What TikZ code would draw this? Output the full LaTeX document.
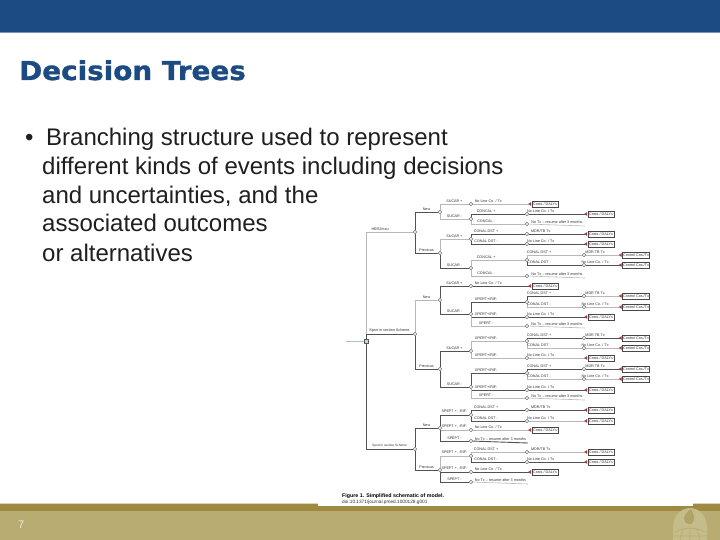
\documentclass[tikz,border=0pt]{standalone}
\usepackage{fontspec}
\setmainfont{Liberation Sans}
\newfontfamily\titlefont[BoldFeatures={FakeBold=1.2}]{DejaVu Sans}
\usetikzlibrary{arrows.meta}
\definecolor{hdr}{HTML}{1C4A82}
\definecolor{bandd}{HTML}{A08A42}
\definecolor{bandl}{HTML}{B8AC72}
\definecolor{logoc}{HTML}{C4BC8A}
\definecolor{flamec}{HTML}{AFA468}
\definecolor{termred}{HTML}{B03A3A}
\pgfdeclarelayer{slide}
\pgfdeclarelayer{links}
\pgfsetlayers{slide,links,main}
\tikzset{
  x=1pt,y=-1pt,
  chance/.style={circle,draw=black!55,fill=white,line width=.45pt,minimum size=3.6pt,inner sep=0pt},
  decis/.style={rectangle,draw=black!65,fill=hdr!25,line width=.5pt,minimum size=4.5pt,inner sep=0pt},
  endpt/.style={inner sep=0pt,minimum size=0pt},
  termbox/.style={draw=black!72,fill=white,line width=.5pt,font=\fontsize{3.7}{4}\selectfont,text=black!80,inner sep=.6pt,minimum width=26pt,minimum height=6pt},
  dk/.style={draw=black!68,line width=.9pt},
  lt/.style={draw=black!28,line width=.6pt},
  lbl/.style={font=\fontsize{3.7}{4}\selectfont,text=black!80,above,inner sep=1.4pt},
  hit/.style={shorten >=.6pt,-{Triangle[reversed,length=3pt,width=3.6pt,color=termred]}},
  bodytext/.style={anchor=base west,font=\fontsize{24}{26}\selectfont,text=black!88,inner sep=0pt},
}
\def\lp{.75}
\newcommand{\brn}[4]{\draw[#1] (#2) |- node[lbl,pos=\lp] {#4} (#3);}
\begin{document}
\begin{tikzpicture}
\useasboundingbox (0,0) rectangle (720,540);
\begin{pgfonlayer}{slide}
\fill[white] (0,0) rectangle (720,540);
\fill[bandl] (0,511) rectangle (720,540);
\fill[bandd] (0,504) rectangle (720,511);
\fill[bandl!50!white] (0,503) rectangle (720,504);
\fill[hdr] (0,0) rectangle (720,32);
\fill[hdr!60!white] (0,32) rectangle (720,33);
% logo
\fill[logoc] (673,540) -- (673,527) .. controls (673,516) and (681,508) .. (690,508) .. controls (699,508) and (707,516) .. (707,527) -- (707,540) -- cycle;
\fill[flamec] (691,509) .. controls (682,515) and (682,523) .. (689,524) .. controls (696,524) and (695,516) .. (691,509) -- cycle;
\draw[bandl,line width=.7pt] (675,532) .. controls (684,527) and (696,527) .. (705,532);
\draw[bandl,line width=.7pt] (690,528) -- (690,540) (683,529) -- (680,540) (697,529) -- (700,540) (674,536) -- (706,536);
% image patch
\fill[white] (318,33) rectangle (693,506);
\end{pgfonlayer}
% title and body
\node[anchor=base west,inner sep=0pt,text=hdr,font=\titlefont\bfseries\fontsize{26}{28}\selectfont] (title) at (19,80) {\scalebox{1.07}[1]{Decision Trees}};
\node[bodytext] (bullet) at (25,146) {•};
\node[bodytext] (t1) at (46,146) {Branching structure used to represent};
\node[bodytext] (t2) at (42,175) {different kinds of events including decisions};
\node[bodytext] (t3) at (42,204) {and uncertainties, and the};
\node[bodytext] (t4) at (42,232) {associated outcomes};
\node[bodytext] (t5) at (42,261) {or alternatives};
\node[anchor=base west,inner sep=0pt,font=\fontsize{11}{13}\selectfont,text=white!75!bandl] (pg) at (18,528) {7};
% nodes of the tree
\coordinate (in) at (346,341);
\node[decis] (R) at (366,341) {};
\foreach \n/\x/\y in {
 A/415/232, B/415/334, C/415/449,
 A1/440/212, A2/440/253, B1/440/300, B2/440/369, C1/440/428, C2/440/470,
 a/471/204, b/471/219, c/471/239, d/471/268, e/471/286, f/471/314, g/471/351, h/471/387,
 i/471/415, j/471/430, k/471/441, l/471/456, m/471/472, n/471/482,
 b1/527/214, b2/527/224, c1/527/234, c2/527/244, d1/527/260, d2/527/276,
 f1/527/302, f2/527/317, f3/527/326, g1/527/341, g2/527/358, h1/527/373, h2/527/390, h3/527/398,
 i1/527/410, i2/527/421, l1/527/452, l2/527/462,
 d11/584/255, d12/584/265, f11/584/296, f12/584/307, g11/584/338, g12/584/348, h11/584/369, h12/584/379}
 {\node[chance] (\n) at (\x,\y) {};}
\foreach \n/\x/\y in {b2e/585/226, d2e/585/278, f3e/585/328, h3e/585/400, ke/528/443, ne/528/484}
 {\node[endpt] (\n) at (\x,\y) {};}
% terminal boxes
\foreach \n/\x/\y/\t in {
 ta/545/204/{Costs / DALYs}, tj/545/430/{Costs / DALYs}, te/545/286/{Costs / DALYs}, tm/545/472/{Costs / DALYs},
 tb1/601/214/{Costs / DALYs}, tc1/601/234/{Costs / DALYs}, tc2/601/244/{Costs / DALYs}, tf2/601/317/{Costs / DALYs},
 tg2/601/358/{Costs / DALYs}, th2/601/390/{Costs / DALYs}, ti1/601/410/{Costs / DALYs}, ti2/601/421/{Costs / DALYs},
 tl1/601/452/{Costs / DALYs}, tl2/601/462/{Costs / DALYs},
 td11/636/255/{Control Cos./Tx}, td12/636/265/{Control Cos./Tx}, tf11/636/296/{Control Cos./Tx}, tf12/636/307/{Control Cos./Tx},
 tg11/636/338/{Control Cos./Tx}, tg12/636/348/{Control Cos./Tx}, th11/636/369/{Control Cos./Tx}, th12/636/379/{Control Cos./Tx}}
 {\node[termbox] (\n) at (\x,\y) {\t};}
% connectors
\begin{pgfonlayer}{links}
\draw[draw=hdr!35,line width=.6pt] (in) -- (R);
\def\lp{.65}
\brn{lt}{R}{A}{HER2/neu}
\def\lp{.75}
\brn{dk}{R}{B}{Sport in section Scheme}
\brn{dk}{R}{C}{\fontsize{3.2}{3.5}\selectfont Sport in section Scheme}
\brn{dk}{A}{A1}{New}
\brn{dk}{A}{A2}{Previous}
\brn{lt}{B}{B1}{New}
\brn{dk}{B}{B2}{Previous}
\brn{dk}{C}{C1}{New}
\brn{dk}{C}{C2}{Previous}
\brn{lt}{A1}{a}{SUCAR +}
\brn{lt}{A1}{b}{SUCAR -}
\brn{lt}{A2}{c}{SUCAR +}
\brn{dk}{A2}{d}{SUCAR -}
\brn{dk}{B1}{e}{SUCAR +}
\brn{dk}{B1}{f}{SUCAR -}
\brn{dk}{B2}{g}{SUCAR +}
\brn{dk}{B2}{h}{SUCAR -}
\brn{dk}{C1}{i}{SPEPT +, -RIF-}
\brn{lt}{C1}{j}{SPEPT +, -RIF-}
\brn{dk}{C1}{k}{SPEPT -}
\brn{lt}{C2}{l}{SPEPT +, -RIF-}
\brn{dk}{C2}{m}{SPEPT +, -RIF-}
\brn{dk}{C2}{n}{SPEPT -}
\def\lp{.64}
\brn{dk}{b}{b1}{CONCAL +}
\brn{lt}{b}{b2}{CONCAL -}
\brn{dk}{c}{c1}{CONAL DST +}
\brn{dk}{c}{c2}{CONAL DST -}
\brn{lt}{d}{d1}{CONCAL +}
\brn{lt}{d}{d2}{CONCAL -}
\brn{dk}{f}{f1}{XPERT+/RIF-}
\brn{dk}{f}{f2}{XPERT+/RIF-}
\brn{lt}{f}{f3}{XPERT -}
\brn{lt}{g}{g1}{XPERT+/RIF-}
\brn{lt}{g}{g2}{XPERT+/RIF-}
\brn{dk}{h}{h1}{XPERT+/RIF-}
\brn{dk}{h}{h2}{XPERT+/RIF-}
\brn{lt}{h}{h3}{XPERT -}
\brn{dk}{i}{i1}{CONAL DST +}
\brn{dk}{i}{i2}{CONAL DST -}
\brn{lt}{l}{l1}{CONAL DST +}
\brn{dk}{l}{l2}{CONAL DST -}
\def\lp{.61}
\brn{lt}{d1}{d11}{CONAL DST +}
\brn{dk}{d1}{d12}{CONAL DST -}
\brn{dk}{f1}{f11}{CONAL DST +}
\brn{lt}{f1}{f12}{CONAL DST -}
\brn{dk}{g1}{g11}{CONAL DST +}
\brn{lt}{g1}{g12}{CONAL DST -}
\brn{dk}{h1}{h11}{CONAL DST +}
\brn{lt}{h1}{h12}{CONAL DST -}
% final branches with terminals
\draw[lt,hit] (a) -- node[lbl,pos=.26] {No Line Co. / Tx} (ta);
\draw[lt,hit] (j) -- node[lbl,pos=.26] {No Line Co. / Tx} (tj);
\draw[dk,hit] (e) -- node[lbl,pos=.26] {No Line Co. / Tx} (te);
\draw[dk,hit] (m) -- node[lbl,pos=.26] {No Line Co. / Tx} (tm);
\draw[dk,hit] (b1) -- node[lbl,pos=.2] {No Line Co. / Tx} (tb1);
\draw[dk,hit] (c1) -- node[lbl,pos=.2] {MDR/TB Tx} (tc1);
\draw[dk,hit] (c2) -- node[lbl,pos=.2] {No Line Co. / Tx} (tc2);
\draw[dk,hit] (f2) -- node[lbl,pos=.2] {No Line Co. / Tx} (tf2);
\draw[lt,hit] (g2) -- node[lbl,pos=.2] {No Line Co. / Tx} (tg2);
\draw[dk,hit] (h2) -- node[lbl,pos=.2] {No Line Co. / Tx} (th2);
\draw[dk,hit] (i1) -- node[lbl,pos=.2] {MDR/TB Tx} (ti1);
\draw[lt,hit] (i2) -- node[lbl,pos=.2] {No Line Co. / Tx} (ti2);
\draw[lt,hit] (l1) -- node[lbl,pos=.2] {MDR/TB Tx} (tl1);
\draw[dk,hit] (l2) -- node[lbl,pos=.2] {No Line Co. / Tx} (tl2);
\draw[lt,hit] (d11) -- node[lbl,pos=.25] {MDR TB Tx} (td11);
\draw[dk,hit] (d12) -- node[lbl,pos=.25] {No Line Co. / Tx} (td12);
\draw[lt,hit] (f11) -- node[lbl,pos=.25] {MDR TB Tx} (tf11);
\draw[lt,hit] (f12) -- node[lbl,pos=.25] {No Line Co. / Tx} (tf12);
\draw[dk,hit] (g11) -- node[lbl,pos=.25] {MDR TB Tx} (tg11);
\draw[lt,hit] (g12) -- node[lbl,pos=.25] {No Line Co. / Tx} (tg12);
\draw[dk,hit] (h11) -- node[lbl,pos=.25] {MDR TB Tx} (th11);
\draw[lt,hit] (h12) -- node[lbl,pos=.25] {No Line Co. / Tx} (th12);
\draw[lt] (b2) -- node[lbl] {No Tx -- resume after 3 months} (b2e);
\draw[lt] (d2) -- node[lbl] {No Tx -- resume after 3 months} (d2e);
\draw[lt] (f3) -- node[lbl] {No Tx -- resume after 3 months} (f3e);
\draw[lt] (h3) -- node[lbl] {No Tx -- resume after 3 months} (h3e);
\draw[dk] (k) -- node[lbl] {No Tx -- resume after 3 months} (ke);
\draw[lt] (n) -- node[lbl] {No Tx -- resume after 3 months} (ne);
\end{pgfonlayer}
% caption
\node[anchor=base west,inner sep=0pt,font=\bfseries\fontsize{5.3}{6}\selectfont] (cap1) at (342,497.5) {Figure 1. Simplified schematic of model.};
\node[anchor=base west,inner sep=0pt,font=\fontsize{4.75}{5.5}\selectfont,text=black!80] (cap2) at (342,503.5) {doi:10.1371/journal.pmed.1000128.g001};
\end{tikzpicture}
\end{document}
